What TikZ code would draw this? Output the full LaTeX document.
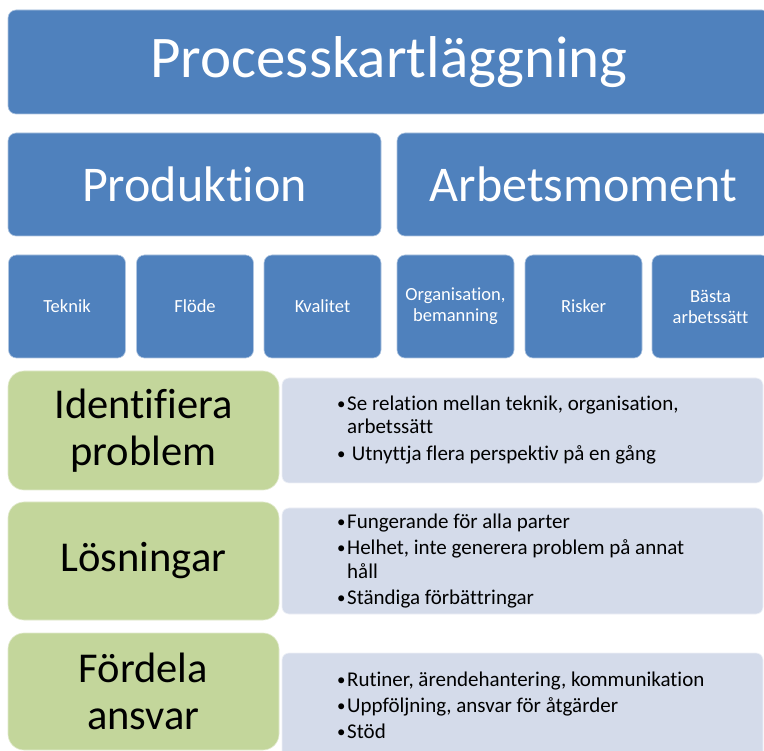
\documentclass[tikz,border=0pt]{standalone}
\usepackage{fontspec}
\setmainfont{Carlito}[Ligatures=CommonOff]
\definecolor{blu}{HTML}{4F81BD}
\definecolor{grn}{HTML}{C3D69B}
\definecolor{pnl}{HTML}{D4DBEA}
\newcommand{\bul}{\makebox[10pt][l]{\raisebox{1pt}{\scalebox{0.8}{•}}}}
\begin{document}
\begin{tikzpicture}[x=1pt,y=-1pt,
  bluebox/.style={fill=blu, draw=white!55!blu, line width=0.6pt, rounded corners=8pt, text=white, inner sep=0pt, align=center},
  smallbox/.style={bluebox, minimum width=117pt, minimum height=103pt, font=\fontsize{18.5}{21}\selectfont},
  greenbox/.style={fill=grn, draw=white!50!grn, line width=0.6pt, rounded corners=16pt, minimum width=271pt, inner sep=0pt, align=center, font=\fontsize{42.5}{47}\selectfont},
  panelbox/.style={fill=pnl, draw=white!60!pnl, line width=0.6pt, rounded corners=7pt, minimum width=481pt, inner sep=0pt},
  paneltext/.style={anchor=west, align=left, inner sep=0pt, font=\fontsize{21}{23.5}\selectfont}
]
\clip (0,0) rectangle (764,751);
\fill[white] (0,0) rectangle (764,751);

% Title
\node[bluebox, minimum width=762pt, minimum height=104pt, font=\fontsize{59}{64}\selectfont] (title) at (389,62) {Processkartläggning};

% Second row
\node[bluebox, minimum width=373pt, minimum height=103pt, font=\fontsize{50}{54}\selectfont] (prod) at (194.5,184.5) {Produktion};
\node[bluebox, minimum width=373pt, minimum height=103pt, font=\fontsize{50}{54}\selectfont] (arb) at (583.5,184.5) {Arbetsmoment};

% Small boxes
\node[smallbox] (teknik) at (67,306.5) {Teknik};
\node[smallbox] (flode) at (195,306.5) {Flöde};
\node[smallbox] (kval) at (322.5,306.5) {Kvalitet};
\node[smallbox] (org) at (455.5,306.5) {Organisation,\\bemanning};
\node[smallbox] (risk) at (583.5,306.5) {Risker};
\node[smallbox] (basta) at (710.5,306.5) {Bästa\\arbetssätt};

% Panels
\node[panelbox, minimum height=105pt] (p1) at (522.5,430.5) {};
\node[panelbox, minimum height=106pt] (p2) at (522.5,561) {};
\node[panelbox, minimum height=105pt] (p3) at (522.5,705.5) {};

% Green boxes
\node[greenbox, minimum height=119pt] (g1) at (143.5,430.5) {Identifiera\\problem};
\node[greenbox, minimum height=118pt] (g2) at (143.5,561) {Lösningar};
\node[greenbox, minimum height=117pt] (g3) at (143.5,691.5) {Fördela\\ansvar};

% Panel texts
\node[paneltext] (t1) at (337,430) {\bul Se relation mellan teknik, organisation,\\\hspace*{10pt}arbetssätt\\[3pt]\bul\ Utnyttja flera perspektiv på en gång};
\node[paneltext] (t2) at (337,561) {\bul Fungerande för alla parter\\[3pt]\bul Helhet, inte generera problem på annat\\\hspace*{10pt}håll\\[3pt]\bul Ständiga förbättringar};
\node[paneltext] (t3) at (337,705) {\bul Rutiner, ärendehantering, kommunikation\\[2.5pt]\bul Uppföljning, ansvar för åtgärder\\[2.5pt]\bul Stöd};
\end{tikzpicture}
\end{document}
